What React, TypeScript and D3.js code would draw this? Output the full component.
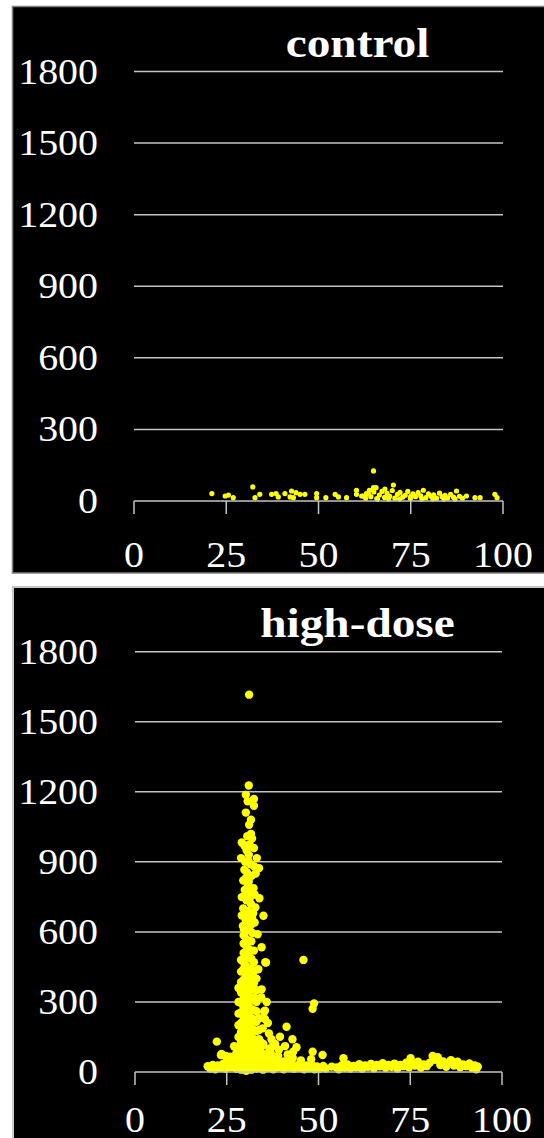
import React from "react";
import * as d3 from "d3";

// axis values shared by both panels
const yTicks = [0, 300, 600, 900, 1200, 1500, 1800];
const xTicks = [0, 25, 50, 75, 100];

// control: [x, y]
const controlPoints: [number, number][] = [
  [21.1, 31], [24.7, 21], [25.6, 25], [26.9, 14], [32.2, 59], [32.8, 14], [34.1, 28],
  [37.3, 28], [38.5, 31], [39.1, 17], [40.9, 31], [42.7, 42], [43.9, 35], [42.3, 17],
  [45.0, 28], [46.3, 28], [43.2, 14], [49.5, 31], [49.5, 14], [52.0, 14], [54.5, 28],
  [55.4, 17], [57.6, 14], [60.3, 45], [60.3, 28], [61.7, 21], [63.0, 31], [64.9, 126],
  [64.9, 56], [65.6, 56], [70.3, 67], [62.1, 21], [62.8, 12], [63.5, 30], [64.2, 18],
  [65.0, 38], [65.8, 10], [66.5, 25], [67.2, 40], [67.9, 15], [68.6, 32], [69.3, 20],
  [70.0, 44], [70.7, 12], [71.4, 28], [72.1, 36], [72.8, 16], [73.5, 24], [74.2, 40],
  [74.9, 10], [75.6, 30], [76.3, 18], [77.0, 35], [77.7, 22], [78.4, 45], [79.1, 14],
  [79.8, 30], [80.5, 20], [81.2, 26], [82.0, 12], [82.8, 33], [83.5, 18], [84.3, 24],
  [85.0, 13], [85.8, 28], [86.6, 16], [87.4, 42], [88.2, 20], [89.0, 12], [90.1, 21],
  [92.4, 14], [93.8, 14], [97.8, 28], [98.4, 14], [66.0, 8], [69.0, 8], [72.0, 8],
  [75.0, 20], [78.0, 8], [81.0, 8], [84.0, 8], [87.0, 8], [63.8, 45], [68.0, 50],
];

// high-dose, upper part of the peak (single dots visible)
const hdPeak: [number, number][] = [
  [31.1, 1616], [31.0, 1227], [30.2, 1187], [32.4, 1169], [30.7, 1159], [32.4, 1140],
  [30.2, 1111], [31.6, 1080], [31.1, 1059], [31.6, 1020], [29.1, 983], [32.4, 959],
  [28.9, 916], [33.2, 916], [33.8, 873], [29.8, 866], [30.4, 950], [31.0, 930],
  [30.0, 900], [31.5, 890], [32.5, 880], [30.5, 855], [31.8, 840], [29.5, 820],
  [32.3, 787], [30.8, 800], [31.4, 770], [29.9, 780], [29.1, 749], [33.9, 744],
  [30.4, 735], [31.6, 720], [32.8, 705], [29.5, 700], [30.8, 690], [35.0, 669],
  [29.1, 670], [31.9, 660], [30.2, 650], [32.6, 640], [29.4, 625], [31.1, 615],
  [33.4, 590], [30.0, 600], [32.0, 595], [30.6, 1010], [31.9, 1000], [29.8, 970],
  [31.2, 975], [30.9, 905], [32.9, 850], [30.2, 830], [31.0, 815], [32.6, 760],
  [30.1, 760], [31.2, 740], [32.2, 680], [30.7, 665], [31.6, 630], [29.7, 610],
];

// high-dose, dense core below 600, by column: [x, ys]
const hdCore: [number, number[]][] = [
  [28.2, [15, 40, 70, 110, 150, 200, 250, 300, 360]],
  [28.9, [10, 35, 60, 95, 130, 170, 210, 255, 295, 340, 385, 430, 480]],
  [29.6, [20, 50, 85, 120, 160, 195, 235, 275, 315, 350, 395, 440, 470, 510, 550, 585]],
  [30.3, [5, 40, 75, 105, 140, 180, 220, 260, 300, 335, 375, 415, 455, 500, 540, 570]],
  [31.0, [25, 55, 90, 125, 165, 205, 245, 285, 325, 365, 405, 445, 490, 525, 560]],
  [31.7, [10, 45, 80, 115, 150, 190, 230, 270, 310, 355, 400, 440, 485, 520, 560]],
  [32.4, [30, 65, 100, 140, 180, 225, 265, 320, 380, 430, 470, 520]],
  [33.1, [15, 50, 90, 130, 175, 215, 260, 300, 350, 400]],
  [33.8, [20, 60, 100, 140, 180, 230]],
  [34.5, [15, 45, 80, 110]],
];

// high-dose, scatter around the foot of the peak
const hdFoot: [number, number][] = [
  [34.5, 534], [35.5, 470], [33.6, 440], [34.5, 354], [35.4, 263], [35.4, 227],
  [34.8, 187], [35.2, 258], [35.7, 469], [22.3, 130], [23.4, 73], [24.8, 69], [23.6, 77],
  [27.6, 80], [27.0, 110], [26.5, 55], [28.0, 60],
  [37.0, 80], [37.2, 140], [37.5, 110], [38.6, 60],
  [39.5, 151], [39.2, 95], [40.5, 45], [40.9, 111], [41.3, 194], [41.6, 75],
  [42.9, 140], [43.0, 60], [43.1, 87], [44.0, 106], [45.2, 50],
  [48.4, 87], [48.0, 55], [51.1, 73], [35.0, 120], [36.5, 165], [34.2, 130], [35.8, 75],
  [37.8, 50], [35.9, 300], [45.9, 480], [48.8, 294], [48.4, 271], [56.8, 59],
  [36.2, 210], [38.2, 120], [34.4, 320], [36.6, 100],
];

// high-dose, solid base along the x axis from 20 to 56
const hdBase: [number, number][] = [
  [19.8, 25], [20.5, 15], [21.2, 30], [21.9, 12], [22.6, 28], [23.3, 18], [24.0, 35],
  [24.7, 14], [25.4, 30], [26.1, 20], [26.8, 40], [27.5, 15], [34.9, 10], [35.6, 35],
  [36.3, 18], [37.0, 40], [37.7, 12], [38.4, 30], [39.1, 20], [39.8, 38], [40.5, 12],
  [41.2, 30], [41.9, 18], [42.6, 36], [43.3, 14], [44.0, 28], [44.7, 18], [45.4, 32],
  [46.1, 12], [46.8, 28], [47.5, 16], [48.2, 30], [48.9, 12], [49.6, 24], [50.3, 14],
  [51.3, 26], [52.0, 15], [53.6, 23], [54.9, 20], [25.0, 50], [26.0, 65], [36.0, 60],
  [39.0, 70], [42.0, 55],
];

// high-dose, flat band on the right
const hdBand: [number, number][] = [
  [55.5, 12], [56.3, 28], [57.1, 18], [57.9, 32], [58.7, 15], [59.5, 26], [60.3, 20],
  [61.1, 33], [61.9, 14], [62.7, 28], [63.5, 22], [64.3, 35], [65.1, 16], [65.9, 30],
  [66.7, 24], [67.5, 38], [68.3, 18], [69.1, 30], [69.9, 22], [70.7, 36], [71.5, 15],
  [72.3, 30], [73.1, 25], [73.9, 40], [74.7, 20], [75.1, 59], [75.5, 35], [76.3, 28],
  [77.1, 44], [77.9, 18], [78.7, 32], [79.5, 25], [80.3, 40], [81.1, 69], [81.8, 52],
  [82.5, 63], [83.2, 30], [84.0, 45], [84.8, 22], [85.5, 36], [86.1, 51], [86.9, 28],
  [87.9, 44], [88.6, 20], [89.4, 32], [90.2, 25], [91.1, 37], [91.8, 18], [92.6, 28],
  [93.4, 23], [93.0, 12],
];

const highDosePoints: [number, number][] = [
  ...hdPeak,
  ...hdCore.flatMap(([x, ys]) => ys.map((y) => [x, y] as [number, number])),
  ...hdFoot,
  ...hdBase,
  ...hdBand,
];

const FONT = "'Liberation Serif', 'Times New Roman', serif";
const SX = 1.14; // the source text is a bit stretched horizontally

type PanelProps = {
  title: string;
  points: [number, number][];
  frame: { x: number; y: number; h: number; stroke: string; sw: number };
  xRange: [number, number];
  yRange: [number, number];
  titleY: number;
  labelY: number;
  r: number;
};

const Panel = ({ title, points, frame, xRange, yRange, titleY, labelY, r }: PanelProps) => {
  const x = d3.scaleLinear().domain([0, 100]).range(xRange);
  const y = d3.scaleLinear().domain([0, 1800]).range(yRange);
  const grid = "#c4c4c4";
  return (
    <g>
      <rect x={frame.x} y={frame.y} width={560} height={frame.h} fill="#000"
        stroke={frame.stroke} strokeWidth={frame.sw} />
      {yTicks.map((t) => (
        <g key={t}>
          {t > 0 && (
            <line x1={x(0)} x2={x(100)} y1={y(t)} y2={y(t)} stroke={grid} strokeWidth={1.5} />
          )}
          <text transform={`translate(98,${y(t) + 12}) scale(${SX},1)`} textAnchor="end"
            fill="#fff" fontFamily={FONT} fontSize={35}>{t}</text>
        </g>
      ))}
      {points.map(([px, py], i) => (
        <circle key={i} cx={x(px)} cy={y(py)} r={r} fill="#ffff00" />
      ))}
      <line x1={x(0)} x2={x(100)} y1={y(0)} y2={y(0)} stroke={grid} strokeWidth={1.5} />
      {xTicks.map((t) => (
        <g key={t}>
          <line x1={x(t)} x2={x(t)} y1={y(0)} y2={y(0) + 13} stroke={grid} strokeWidth={1.5} />
          <text transform={`translate(${x(t)},${labelY}) scale(${SX},1)`} textAnchor="middle"
            fill="#fff" fontFamily={FONT} fontSize={35}>{t}</text>
        </g>
      ))}
      <text transform={`translate(357.5,${titleY}) scale(1.1,1)`} textAnchor="middle"
        fill="#fff" fontFamily={FONT} fontWeight="bold" fontSize={43}>{title}</text>
    </g>
  );
};

export default function App() {
  return (
    <svg width={544} height={1138} style={{ position: "absolute", left: 0, top: 0, background: "#fff" }}>
      <Panel title="control" points={controlPoints}
        frame={{ x: 12.5, y: 6.5, h: 566.5, stroke: "#808080", sw: 1.5 }}
        xRange={[134, 503]} yRange={[501, 71.5]} titleY={57} labelY={567} r={2.6} />
      <Panel title="high-dose" points={highDosePoints}
        frame={{ x: 13, y: 587, h: 580, stroke: "#c8c8c8", sw: 2 }}
        xRange={[135, 502]} yRange={[1072, 651.7]} titleY={637} labelY={1132} r={4.2} />
    </svg>
  );
}
